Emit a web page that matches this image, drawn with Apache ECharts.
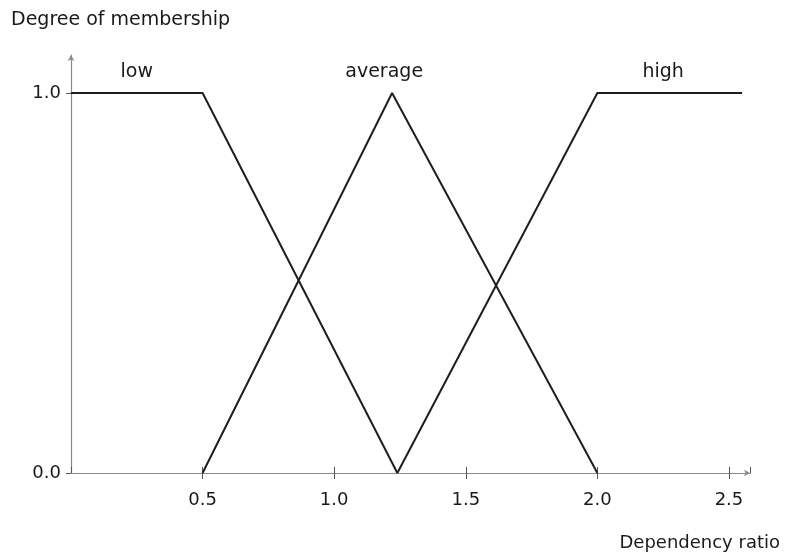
<!DOCTYPE html>
<html>
<head>
<meta charset="utf-8">
<script src="https://cdn.jsdelivr.net/npm/echarts@6/dist/echarts.min.js"></script>
<style>
  html, body { margin: 0; padding: 0; background: #fff; }
  #chart { width: 787px; height: 557px; }
</style>
</head>
<body>
<div id="chart"></div>
<script>
// membership functions, points are [dependency ratio, degree]
const lowPoints = [[0, 1], [0.5, 1], [1.24, 0]]
const averagePoints = [[0.5, 0], [1.22, 1], [2.0, 0]]
const highPoints = [[1.24, 0], [2.0, 1], [2.55, 1]]

const setNames = ['low', 'average', 'high']
const labelX = [0.25, 1.19, 2.25]
const labelY = [1.055, 1.055, 1.055]

const xTicks = [0.5, 1.0, 1.5, 2.0, 2.5]
const yTicks = [0.0, 1.0]

const fontFamily = 'DejaVu Sans'
const textColor = '#1a1a1a'
const axisColor = '#8a8a8a'

const chart = echarts.init(document.getElementById('chart'))

const lineSeries = (name, data) => ({
  name: name,
  type: 'line',
  data: data,
  symbol: 'none',
  silent: true,
  animation: false,
  lineStyle: { color: '#1e1e1e', width: 2 }
})

chart.setOption({
  backgroundColor: '#fff',
  textStyle: { fontFamily: fontFamily, color: textColor },
  title: [{
    text: 'Degree of membership',
    left: 6,
    top: 6,
    textStyle: { fontFamily: fontFamily, fontSize: 19, fontWeight: 'normal', color: textColor }
  }, {
    text: 'Dependency ratio',
    right: 2,
    top: 529,
    textStyle: { fontFamily: fontFamily, fontSize: 18, fontWeight: 'normal', color: textColor }
  }],
  grid: {
    left: 71,
    right: 37,
    top: 55,
    bottom: 84
  },
  xAxis: [{
    type: 'value',
    min: 0,
    max: 2.58,
    interval: 0.5,
    axisLine: {
      show: true,
      lineStyle: { color: axisColor, width: 1.2 },
      symbol: ['none', 'arrow'],
      symbolSize: [5, 6]
    },
    axisTick: { show: true, inside: false, length: 6, lineStyle: { color: '#555' } },
    axisLabel: {
      showMinLabel: false,
      showMaxLabel: false,
      margin: 18,
      fontSize: 18,
      color: textColor,
      fontFamily: fontFamily,
      formatter: v => xTicks.includes(+v.toFixed(1)) ? v.toFixed(1) : ''
    },
    splitLine: { show: false }
  }, {
    type: 'value',
    position: 'bottom',
    min: 0,
    max: 2.58,
    interval: 0.5,
    axisLine: { show: false },
    axisTick: { show: true, inside: true, length: 6, lineStyle: { color: '#555' } },
    axisLabel: { show: false },
    splitLine: { show: false }
  }],
  yAxis: {
    type: 'value',
    min: 0,
    max: 1.1,
    interval: 1,
    axisLine: {
      show: true,
      lineStyle: { color: axisColor, width: 1.2 },
      symbol: ['none', 'arrow'],
      symbolSize: [5, 6]
    },
    axisTick: { show: true, length: 5, lineStyle: { color: '#555' } },
    axisLabel: {
      showMaxLabel: false,
      margin: 10,
      fontSize: 18,
      color: textColor,
      fontFamily: fontFamily,
      formatter: v => yTicks.includes(v) ? v.toFixed(1) : ''
    },
    splitLine: { show: false }
  },
  series: [
    lineSeries('low', lowPoints),
    lineSeries('average', averagePoints),
    lineSeries('high', highPoints),
    {
      type: 'scatter',
      symbolSize: 0,
      silent: true,
      animation: false,
      itemStyle: { opacity: 1 },
      data: setNames.map((n, i) => ({ name: n, value: [labelX[i], labelY[i]] })),
      label: {
        show: true,
        position: 'inside',
        formatter: p => p.name,
        fontSize: 19,
        fontFamily: fontFamily,
        color: textColor
      }
    }
  ]
})
</script>
</body>
</html>
